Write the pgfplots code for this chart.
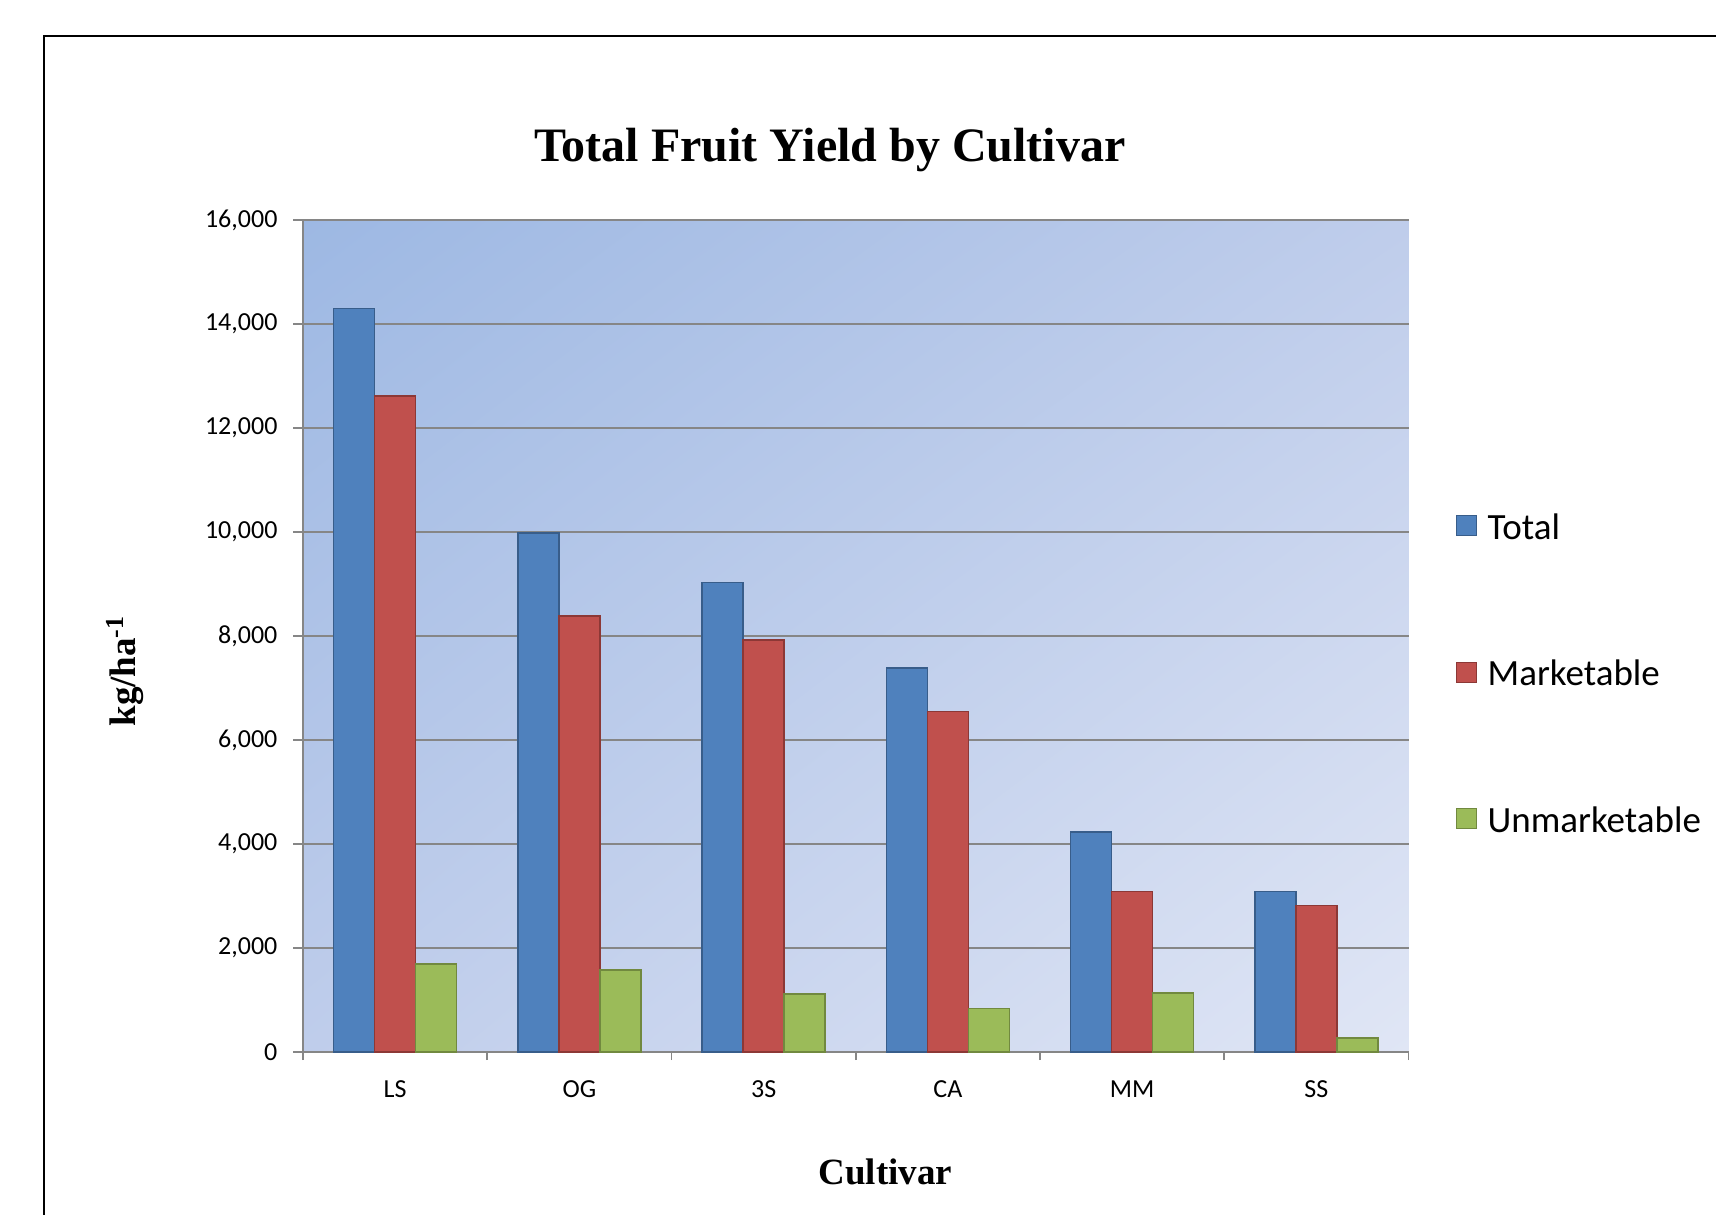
\documentclass[border=0pt]{standalone}
\usepackage{pgfplots}
\pgfplotsset{compat=1.18}
\usepackage{fontspec}
\setmainfont{Carlito}
\newfontfamily\tnr{Liberation Serif}
\usetikzlibrary{calc,shadings}
\definecolor{cTot}{HTML}{4F81BD}
\definecolor{cTotE}{HTML}{385D8A}
\definecolor{cMar}{HTML}{C0504D}
\definecolor{cMarE}{HTML}{8C3836}
\definecolor{cUn}{HTML}{9BBB59}
\definecolor{cUnE}{HTML}{71893F}
\definecolor{gridc}{HTML}{868686}
\definecolor{bgA}{HTML}{9DB8E3}
\definecolor{bgB}{HTML}{BFCDEB}
\definecolor{bgC}{HTML}{E0E6F5}
\begin{document}
\begin{tikzpicture}
\begin{axis}[
  scale only axis, width=552.75pt, height=416pt,
  xmin=-0.5, xmax=5.5, ymin=0, ymax=16000,
  axis lines*=left, axis line style={gridc, line width=0.8pt},
  ymajorgrids, major grid style={gridc, line width=0.8pt},
  ytick={0,2000,...,16000},
  xtick={0,...,5}, xticklabels={LS,OG,3S,CA,MM,SS},
  minor xtick={-0.5,0.5,...,5.5},
  tick align=outside,
  major tick length=4.9pt, minor tick length=4pt,
  major x tick style={draw=none},
  minor x tick style={gridc, line width=0.8pt},
  y tick style={gridc, line width=0.8pt},
  scaled y ticks=false,
  /pgf/number format/1000 sep={,},
  /pgf/number format/assume math mode=true,
  ticklabel style={font=\fontsize{13}{15}\selectfont},
  yticklabel style={inner sep=0pt, anchor=east, xshift=-7.7pt},
  xticklabel style={inner sep=0pt, anchor=center, yshift=-13.5pt},
  ybar=0pt, bar width=20.5pt,
  axis background/.style={shade, upper left=bgA, lower right=bgC, upper right=bgB, lower left=bgB},
  title={Total Fruit Yield by Cultivar},
  title style={font=\tnr\bfseries\fontsize{24}{28}\selectfont, at={(axis description cs:0.4765,1.0553)}, anchor=base, inner sep=0pt},
  xlabel={Cultivar},
  xlabel style={font=\tnr\bfseries\fontsize{18.5}{22}\selectfont, at={(axis description cs:0.5268,-0.1587)}, anchor=base, inner sep=0pt},
  ylabel={kg/ha\textsuperscript{-1}},
  ylabel style={font=\tnr\bfseries\fontsize{18.5}{22}\selectfont, at={(axis description cs:-0.1512,0.458)}, anchor=base, inner sep=0pt},
  legend style={at={(axis description cs:1.0427,0.6469)}, anchor=north west, draw=none, fill=none, inner sep=0pt, outer sep=0pt, row sep=58.9pt, column sep=5.4pt, font=\fontsize{18.5}{22}\selectfont, nodes={inner sep=0pt}},
  legend cell align=left,
  legend image code/.code={\draw[#1, line width=0.6pt] (0pt,-3.8pt) rectangle (10pt,6.2pt);},
]
\addplot[fill=cTot, draw=cTotE, line width=0.8pt] coordinates {(0,14300) (1,9980) (2,9030) (3,7390) (4,4230) (5,3090)};
\addplot[fill=cMar, draw=cMarE, line width=0.8pt] coordinates {(0,12610) (1,8380) (2,7920) (3,6550) (4,3090) (5,2820)};
\addplot[fill=cUn, draw=cUnE, line width=0.8pt] coordinates {(0,1690) (1,1580) (2,1115) (3,840) (4,1140) (5,270)};
\legend{Total, Marketable, Unmarketable}
\coordinate (SW) at (rel axis cs:0,0);
\coordinate (NE) at (rel axis cs:1,1);
\end{axis}
\draw[black, line width=1.1pt] ($(SW)+(-129.6pt,-300pt)$) rectangle ($(NE)+(400pt,92pt)$);
\pgfresetboundingbox
\path[use as bounding box] ($(SW)+(-151.5pt,-81pt)$) rectangle ($(NE)+(153.75pt,110pt)$);
\end{tikzpicture}
\end{document}
